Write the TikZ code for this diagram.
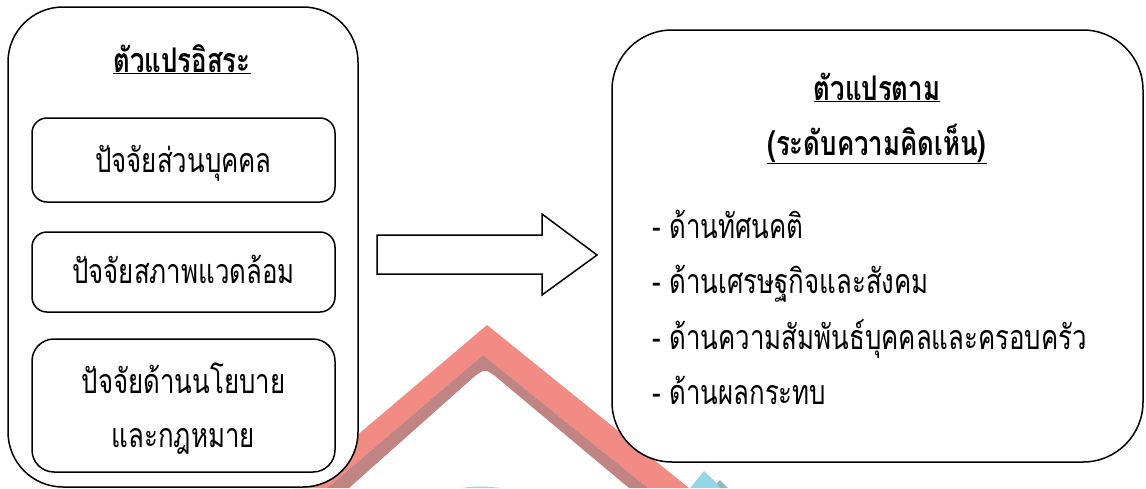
\documentclass[tikz,border=0pt]{standalone}
\usepackage{fontspec}
\newfontfamily\thai[Script=Thai,FakeStretch=0.76]{Loma}
\definecolor{wmred}{HTML}{F18B84}
\definecolor{wmgrey}{HTML}{C08482}
\definecolor{wmblue}{HTML}{97D6E6}
\definecolor{wmblue2}{HTML}{8FB8C2}
\begin{document}
\begin{tikzpicture}[x=1pt,y=-1pt,
  box/.style={draw,line width=1.5pt,fill=white,rectangle},
  txt/.style={anchor=base,inner sep=0pt,font=\thai\fontsize{34}{40}\selectfont},
  ttl/.style={anchor=base,inner sep=0pt,font=\thai\bfseries\fontsize{34}{40}\selectfont},
  item/.style={anchor=base west,inner sep=0pt,font=\thai\fontsize{34}{40}\selectfont}]
\useasboundingbox (0,0) rectangle (1146,488);
% watermark
\fill[wmred] (295,488) -- (487,325) -- (689,488) -- (648,488) -- (483,355) -- (327,488) -- cycle;
\fill[wmgrey] (327,488) -- (483,355) -- (648,488) -- (629,488) -- (495,376) .. controls (485,369) .. (475,376) -- (349,488) -- cycle;
\fill[wmblue] (690,488) -- (704,471) -- (722,488) -- cycle;
\fill[wmblue2] (717,483) -- (720,480) -- (728,488) -- (720,488) -- cycle;
\fill[wmblue] (462,488) .. controls (475,486) and (488,486) .. (500,488) -- cycle;
% left panel
\node[box,rounded corners=55pt,minimum width=350pt,minimum height=480pt] (L) at (183,247) {};
\node[ttl] (Lt) at (182,72) {\underline{ตัวแปรอิสระ}};
\node[box,rounded corners=15pt,minimum width=303pt,minimum height=84pt] (B1) at (183.5,160) {};
\node[txt] (B1t) at (183.5,172) {ปัจจัยส่วนบุคคล};
\node[box,rounded corners=15pt,minimum width=303pt,minimum height=80pt] (B2) at (183.5,272) {};
\node[txt] (B2t) at (183.5,283) {ปัจจัยสภาพแวดล้อม};
\node[box,rounded corners=22pt,minimum width=303pt,minimum height=133pt] (B3) at (183.5,405.5) {};
\node[txt] (B3a) at (183.5,393) {ปัจจัยด้านนโยบาย};
\node[txt] (B3b) at (183.5,447) {และกฎหมาย};
% arrow
\draw[line width=1.5pt,line join=miter,fill=white] (377,235) -- (542,235) -- (542,214) -- (597,255) -- (542,295) -- (542,274) -- (377,274) -- cycle;
% right panel
\node[box,rounded corners=60pt,minimum width=531pt,minimum height=432pt] (R) at (877.5,246) {};
\node[ttl] (Rt1) at (877,100) {\underline{ตัวแปรตาม}};
\node[ttl] (Rt2) at (877,155) {\underline{(ระดับความคิดเห็น)}};
\node[item] (I1) at (652,238) {- ด้านทัศนคติ};
\node[item] (I2) at (652,293) {- ด้านเศรษฐกิจและสังคม};
\node[item] (I3) at (652,349) {- ด้านความสัมพันธ์บุคคลและครอบครัว};
\node[item] (I4) at (652,404) {- ด้านผลกระทบ};
\end{tikzpicture}
\end{document}
